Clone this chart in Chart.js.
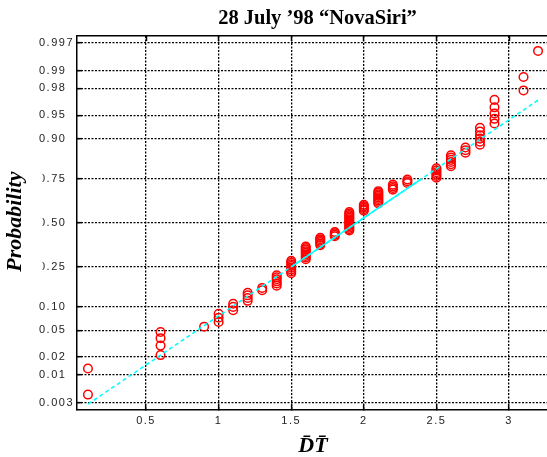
<!DOCTYPE html>
<html>
<head>
<meta charset="utf-8">
<title>28 July '98 NovaSiri</title>
<script src="https://cdn.jsdelivr.net/npm/chart.js@4/dist/chart.umd.min.js"></script>
<style>
  html, body { margin: 0; padding: 0; background: #fff; overflow: hidden; }
  canvas { display: block; }
</style>
</head>
<body>
<canvas id="normplot" width="556" height="457"></canvas>
<script>
// measured DT values (distinct) and how many samples sit at each
const dtValues = [0.1, 0.6, 0.9, 1.0, 1.1, 1.2, 1.3, 1.4, 1.5, 1.6, 1.7, 1.8, 1.9, 2.0, 2.1, 2.2, 2.3, 2.5, 2.6, 2.7, 2.8, 2.9, 3.1, 3.2];
const dtCounts = [2, 4, 1, 3, 3, 4, 2, 6, 8, 9, 6, 4, 14, 5, 9, 4, 3, 6, 6, 3, 6, 5, 2, 1];

const yTickProbs  = [0.003, 0.01, 0.02, 0.05, 0.10, 0.25, 0.50, 0.75, 0.90, 0.95, 0.98, 0.99, 0.997];
const yTickLabels = ['0.003', '0.01', '0.02', '0.05', '0.10', '0.25', '0.50', '0.75', '0.90', '0.95', '0.98', '0.99', '0.997'];
const xTicks      = [0.5, 1, 1.5, 2, 2.5, 3];
const xTickLabels = ['0.5', '1', '1.5', '2', '2.5', '3'];

// inverse normal cdf (Acklam)
function normInv(p) {
  const a = [-3.969683028665376e+01, 2.209460984245205e+02, -2.759285104469687e+02, 1.383577518672690e+02, -3.066479806614716e+01, 2.506628277459239e+00];
  const b = [-5.447609879822406e+01, 1.615858368580409e+02, -1.556989798598866e+02, 6.680131188771972e+01, -1.328068155288572e+01];
  const c = [-7.784894002430293e-03, -3.223964580411365e-01, -2.400758277161838e+00, -2.549732539343734e+00, 4.374664141464968e+00, 2.938163982698783e+00];
  const d = [7.784695709041462e-03, 3.224671290700398e-01, 2.445134137142996e+00, 3.754408661907416e+00];
  const pl = 0.02425;
  let q, r;
  if (p < pl) {
    q = Math.sqrt(-2 * Math.log(p));
    return (((((c[0]*q+c[1])*q+c[2])*q+c[3])*q+c[4])*q+c[5]) / ((((d[0]*q+d[1])*q+d[2])*q+d[3])*q+1);
  }
  if (p > 1 - pl) {
    q = Math.sqrt(-2 * Math.log(1 - p));
    return -(((((c[0]*q+c[1])*q+c[2])*q+c[3])*q+c[4])*q+c[5]) / ((((d[0]*q+d[1])*q+d[2])*q+d[3])*q+1);
  }
  q = p - 0.5; r = q * q;
  return (((((a[0]*r+a[1])*r+a[2])*r+a[3])*r+a[4])*r+a[5])*q / (((((b[0]*r+b[1])*r+b[2])*r+b[3])*r+b[4])*r+1);
}

// sorted sample, plotted at (i - 0.5)/n like normplot does
const sample = [];
dtValues.forEach((v, i) => { for (let k = 0; k < dtCounts[i]; k++) sample.push(v); });
const n = sample.length;
const points = sample.map((v, i) => ({ x: v, y: normInv((i + 0.5) / n) }));

// reference line through the quartiles
function prctile(p) {
  const pos = n * p / 100 + 0.5;
  const lo = Math.floor(pos), f = pos - lo;
  return sample[lo - 1] + f * (sample[lo] - sample[lo - 1]);
}
const q1 = prctile(25), q3 = prctile(75);
const z1 = normInv(0.25), z3 = normInv(0.75);
const slope = (z3 - z1) / (q3 - q1);
const lineAt = x => z1 + (x - q1) * slope;
const xMin = sample[0], xMax = sample[n - 1];

const textPlugin = {
  id: 'probText',
  beforeDraw(chart) { chart.ctx.letterSpacing = '1.5px'; },
  beforeDatasetsDraw(chart) { chart.ctx.letterSpacing = '0px'; },
  afterDraw(chart) {
    const ctx = chart.ctx;
    const area = chart.chartArea;
    ctx.save();
    ctx.letterSpacing = '0px';
    ctx.fillStyle = '#000';
    ctx.textAlign = 'center';
    ctx.textBaseline = 'alphabetic';
    ctx.font = 'bold 20.5px "Liberation Serif"';
    ctx.fillText('28 July \u201998 \u201cNovaSiri\u201d', 317.5, 24);
    ctx.font = 'bold italic 22px "Liberation Serif"';
    ctx.fillText('D\u0304T\u0304', (area.left + area.right) / 2, 452);
    // the ylabel box hides part of the middle tick labels in the original
    ctx.fillStyle = '#fff';
    ctx.fillRect(0, 150, 42.5, 142);
    ctx.fillStyle = '#000';
    ctx.translate(20.5, 221.7);
    ctx.rotate(-Math.PI / 2);
    ctx.fillText('Probability', 0, 0);
    ctx.restore();
  }
};

const tickFont = { family: '"Liberation Sans", Arial, sans-serif', size: 11 };

new Chart(document.getElementById('normplot'), {
  type: 'scatter',
  data: {
    datasets: [
      {
        data: [{ x: q1, y: lineAt(q1) }, { x: q3, y: lineAt(q3) }],
        showLine: true,
        borderColor: '#00ffff',
        borderWidth: 1.6,
        pointRadius: 0,
        order: 0
      },
      {
        data: [{ x: xMin, y: lineAt(xMin) }, { x: xMax, y: lineAt(xMax) }],
        showLine: true,
        borderColor: '#00ffff',
        borderWidth: 1.6,
        borderDash: [4, 3],
        pointRadius: 0,
        order: 1
      },
      {
        data: points,
        pointStyle: 'circle',
        pointRadius: 4.3,
        borderWidth: 1.5,
        borderColor: '#ff0000',
        backgroundColor: 'rgba(0,0,0,0)',
        order: 2
      }
    ]
  },
  options: {
    responsive: false,
    animation: false,
    layout: { padding: { left: 39, top: 36, right: 6.7, bottom: 0 } },
    plugins: {
      legend: { display: false },
      title: { display: false },
      tooltip: { enabled: false }
    },
    scales: {
      x: {
        type: 'linear',
        min: 0.0225,
        max: 3.2775,
        afterBuildTicks: s => { s.ticks = xTicks.map(v => ({ value: v })); },
        afterFit: s => { s.height = 47.5; },
        ticks: {
          color: '#222',
          font: tickFont,
          padding: 10,
          maxRotation: 0,
          callback: (v, i) => xTickLabels[i]
        },
        grid: { color: '#000', lineWidth: 1.3, tickLength: -5, tickWidth: 1.5, tickBorderDash: [] },
        border: { display: true, color: '#000', width: 1.5, dash: [2, 1.5] }
      },
      xTop: {
        type: 'linear',
        position: 'top',
        min: 0.0225,
        max: 3.2775,
        afterBuildTicks: s => { s.ticks = xTicks.map(v => ({ value: v })); },
        afterFit: s => { s.height = 0; },
        ticks: { display: false },
        grid: { drawOnChartArea: false, color: '#000', tickLength: -5, tickWidth: 1.5, tickBorderDash: [] },
        border: { display: true, color: '#000', width: 1.5 }
      },
      y: {
        type: 'linear',
        min: -2.855,
        max: 2.855,
        afterBuildTicks: s => { s.ticks = yTickProbs.map(p => ({ value: normInv(p) })); },
        afterFit: s => { s.width = 37.7; },
        ticks: {
          color: '#222',
          font: tickFont,
          crossAlign: 'far',
          callback: (v, i) => yTickLabels[i]
        },
        grid: { color: '#000', lineWidth: 1.3, tickLength: -5, tickWidth: 1.5, tickBorderDash: [] },
        border: { display: true, color: '#000', width: 1.5, dash: [2, 1.5] }
      }
    }
  },
  plugins: [textPlugin]
});
</script>
</body>
</html>
